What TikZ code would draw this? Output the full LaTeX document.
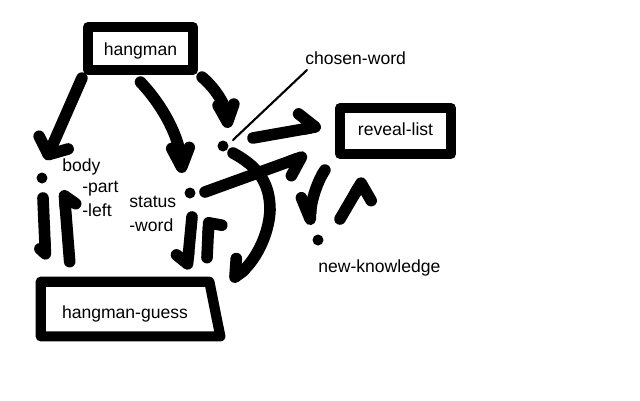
\documentclass[tikz,border=0pt]{standalone}
\usepackage{fontspec}
\setmainfont{Liberation Sans}
\usetikzlibrary{arrows.meta,calc}
\begin{document}
\begin{tikzpicture}[x=0.02cm,y=-0.02cm,
  box/.style={draw, line width=5.8pt, line join=round, inner sep=0pt, font=\fontsize{10}{12}\selectfont},
  dot/.style={circle, fill, inner sep=0pt, minimum size=0.22cm},
  lbl/.style={inner sep=0pt, anchor=base west, font=\fontsize{10}{12}\selectfont},
  conn/.style={line width=6.6pt, line cap=round, line join=round},
  thinline/.style={line width=1.2pt, line cap=round}]
\useasboundingbox (0,0) rectangle (640,400);

% boxes
\node[box, minimum width=2.1cm, minimum height=0.86cm] (hm) at (140.5,48.5) {\raisebox{-1.2pt}[\height][\depth]{hangman}};
\node[box, minimum width=2.22cm, minimum height=0.92cm] (rl) at (395.5,131) {\raisebox{1pt}[\height][\depth]{reveal-list}};
\node[inner sep=0pt, minimum width=3.36cm, minimum height=1.08cm, font=\fontsize{10}{12}\selectfont] (hg) at (125,309) {\raisebox{-2.6pt}[\height][\depth]{hangman-guess}};
\draw[line width=5.8pt, line join=round] (hg.north west) -- (hg.north east) -- ($(hg.south east)+(11,0)$) -- (hg.south west) -- cycle;

% dots
\node[dot] (body) at (42,178) {};
\node[dot] (status) at (190,193) {};
\node[dot] (cw) at (223,146) {};
\node[dot] (nk) at (318,240) {};

% labels
\node[lbl] (lbody) at (62,171) {body};
\node[lbl] (lpart) at (82,192) {-part};
\node[lbl] (lleft) at (82,216) {-left};
\node[lbl] (lstatus) at (129,207) {status};
\node[lbl] (lword) at (129,231) {-word};
\node[lbl] (lcw) at (305,64) {chosen-word};
\node[lbl] (lnk) at (318,272) {new-knowledge};

% connectors
\draw[conn, -{Straight Barb[round,length=7.5pt,width=18pt]}] ($(hm.south west)+(-1,3)$) -- ($(body)+(4,-18)$);
\draw[conn, -{Straight Barb[round,length=11pt,width=10pt]}] ($(hm.south)+(0,7)$) .. controls (165,108) and (180,140) .. ($(status)+(-8,-20)$);
\draw[conn, -{Straight Barb[round,length=10pt,width=9pt]}] ($(hm.south east)+(4,2)$) .. controls (215,88) and (226,105) .. ($(cw)+(5,-18)$);
\draw[thinline] ($(lcw.base west)+(2,6)$) -- ($(cw)+(10,-6)$);
\draw[conn, -{Straight Barb[round,left,length=8pt,width=18pt]}] ($(cw)+(30,-8)$) -- ($(rl.west)+(-14,-5)$);
\draw[conn, -{Straight Barb[round,right,length=9pt,width=16pt]}] ($(status)+(15,-1)$) -- ($(rl.south west)+(-28,-4)$);
\draw[conn, -{Straight Barb[round,right,length=7pt,width=16pt]}] ($(cw)+(10,7)$) .. controls (255,165) and (270,180) .. (270,210) .. controls (269,235) and (255,262) .. ($(hg.north east)+(21,-1)$);
\draw[conn, -{Straight Barb[round,right,length=12pt,width=11pt]}] ($(rl.south west)+(-10,11)$) .. controls (318,180) and (311,200) .. ($(nk)+(-8,-15)$);
\draw[conn, -{Straight Barb[round,right,length=5.7pt,width=20pt]}] ($(nk)+(22,-21)$) -- ($(rl.south)+(-31.5,19)$);
\draw[conn, -{Straight Barb[round,right,length=3pt,width=6pt]}] ($(body)+(1,20)$) -- ($(hg.north west)+(5,-22)$);
\draw[conn, -{Straight Barb[round,right,length=5pt,width=12pt]}] ($(hg.north west)+(29,-20)$) -- ($(body)+(22,12)$);
\draw[conn, -{Straight Barb[round,right,length=4.5pt,width=13.5pt]}] ($(status)+(2,24)$) -- ($(hg.north)+(62,-12)$);
\draw[conn, -{Straight Barb[round,right,length=1pt,width=15pt]}] ($(hg.north)+(82,-24)$) -- ($(status)+(19,24)$);
\end{tikzpicture}
\end{document}
